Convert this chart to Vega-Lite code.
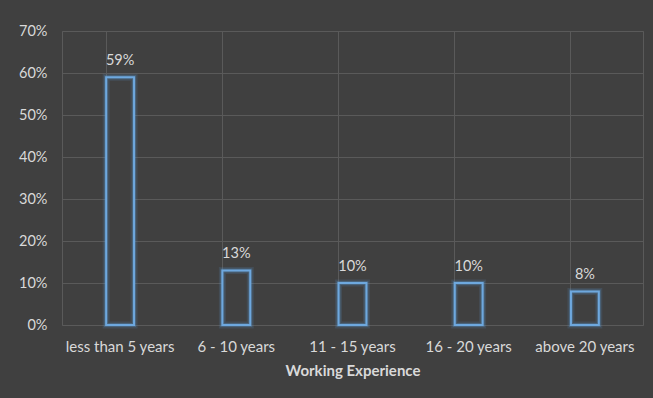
{
  "$schema": "https://vega.github.io/schema/vega-lite/v6.json",
  "width": 581,
  "height": 294,
  "autosize": {"type": "none"},
  "padding": {"left": 62, "top": 31, "right": 10, "bottom": 73},
  "background": "#404040",
  "config": {
    "view": {"stroke": "#5a5a5a", "strokeWidth": 1},
    "font": "Lato",
    "axis": {"labelFont": "Lato", "titleFont": "Lato", "labelColor": "#d9d9d9", "titleColor": "#d9d9d9", "domain": false, "ticks": false, "gridColor": "#5a5a5a", "gridWidth": 1}
  },
  "data": {
    "values": [
      {"experience": "less than 5 years", "share": 0.59},
      {"experience": "6 - 10 years", "share": 0.13},
      {"experience": "11 - 15 years", "share": 0.10},
      {"experience": "16 - 20 years", "share": 0.10},
      {"experience": "above 20 years", "share": 0.08}
    ]
  },
  "encoding": {
    "x": {
      "field": "experience", "type": "nominal", "sort": null,
      "scale": {"paddingInner": 0.76, "paddingOuter": 0.38},
      "axis": {"title": "Working Experience", "labelAngle": 0, "labelFontSize": 15, "labelPadding": 14, "titleFontSize": 15, "titleFontWeight": "bold", "titlePadding": 9, "grid": true, "bandPosition": 0}
    },
    "y": {
      "field": "share", "type": "quantitative",
      "scale": {"domain": [0, 0.7], "nice": false},
      "axis": {"title": null, "format": ".0%", "values": [0, 0.1, 0.2, 0.3, 0.4, 0.5, 0.6, 0.7], "labelOverlap": false, "labelBound": false, "labelFontSize": 14.5, "labelPadding": 15, "grid": true}
    }
  },
  "layer": [
    {"mark": {"type": "bar", "fill": "#404040", "stroke": "#5b9bd5", "strokeWidth": 7, "strokeOpacity": 0.15}},
    {"mark": {"type": "bar", "fill": "#404040", "fillOpacity": 0, "stroke": "#5b9bd5", "strokeWidth": 4, "strokeOpacity": 0.3}},
    {"mark": {"type": "bar", "fillOpacity": 0, "stroke": "#6ea8de", "strokeWidth": 2}},
    {
      "mark": {"type": "text", "baseline": "bottom", "dy": -9, "fontSize": 14.5, "color": "#d9d9d9"},
      "encoding": {"text": {"field": "share", "type": "quantitative", "format": ".0%"}}
    }
  ]
}
